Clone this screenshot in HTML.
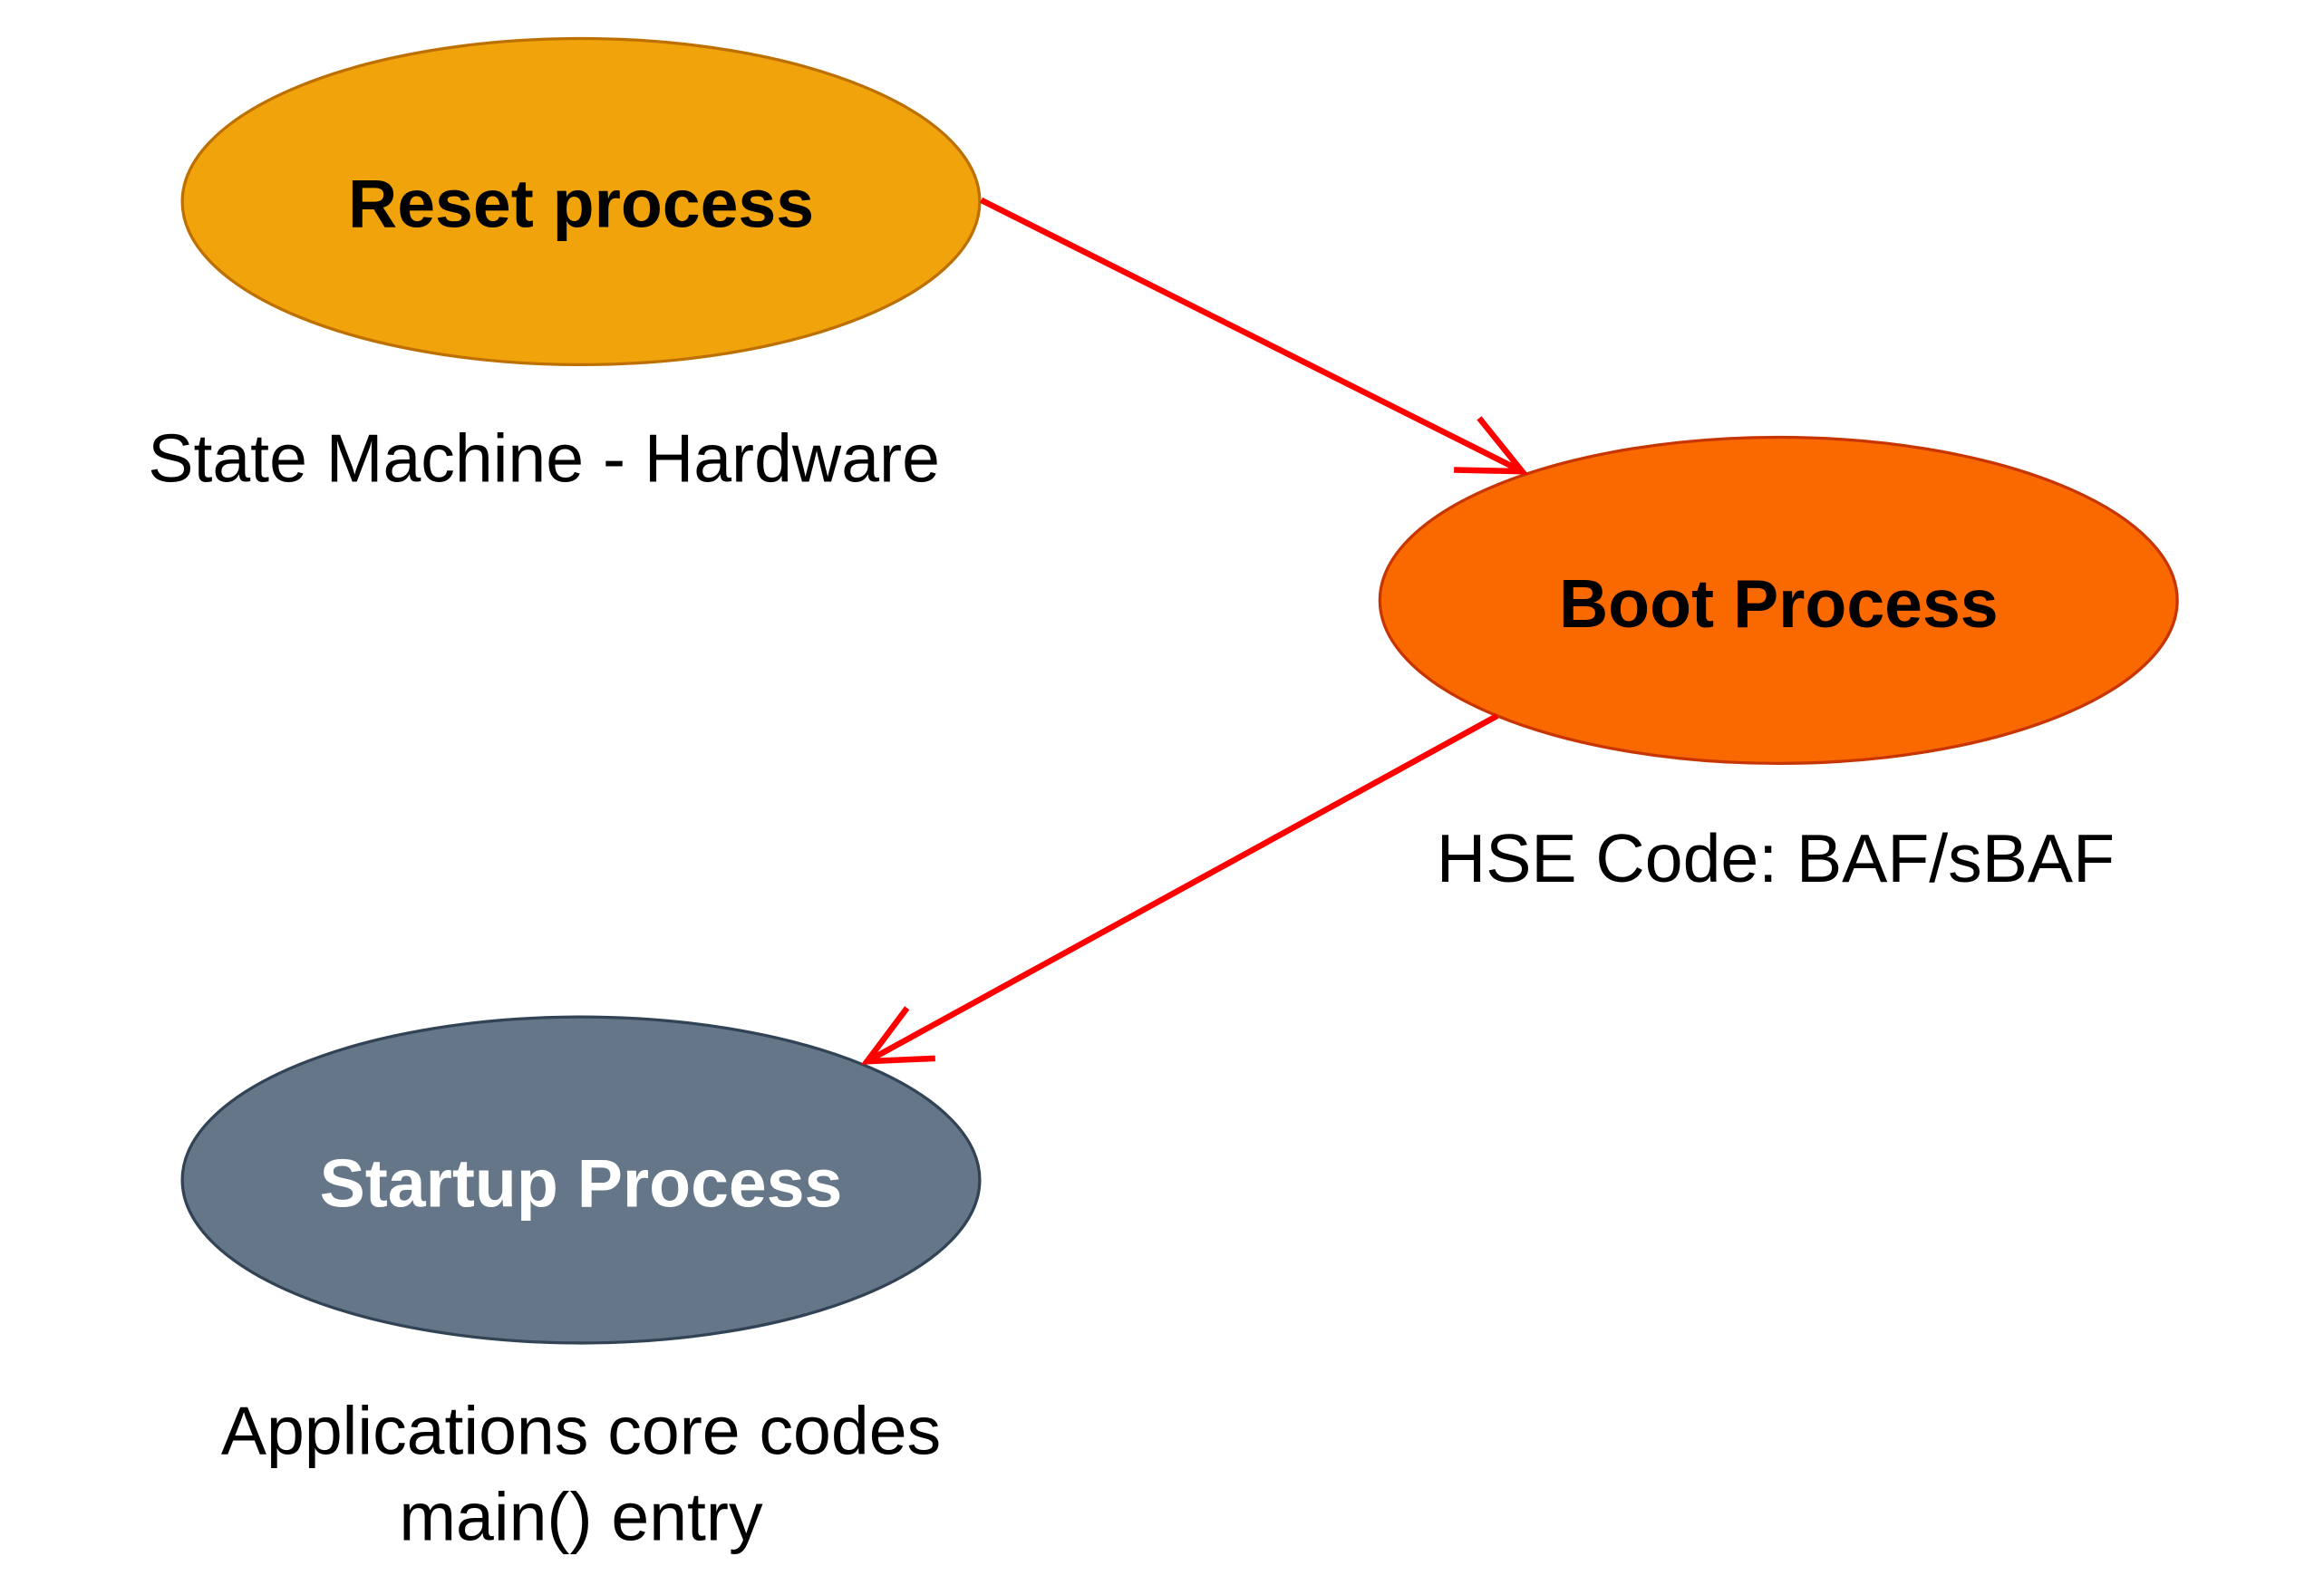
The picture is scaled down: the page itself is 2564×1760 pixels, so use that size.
<!DOCTYPE html>
<html><head><style>html,body{margin:0;padding:0;background:#fff;}svg{display:block}</style></head>
<body>
<svg width="2564" height="1760" viewBox="0 0 1568 1076" preserveAspectRatio="none" xmlns="http://www.w3.org/2000/svg" font-family="Liberation Sans, Arial, sans-serif">
<rect width="1568" height="1076" fill="#fff"/>
<ellipse cx="392" cy="136" rx="269" ry="110" fill="#f0a30a" stroke="#bd7000" stroke-width="2"/>
<ellipse cx="1200" cy="405" rx="269" ry="110" fill="#fa6800" stroke="#c73500" stroke-width="2"/>
<ellipse cx="392" cy="796" rx="269" ry="110" fill="#647687" stroke="#314354" stroke-width="2"/>
<text x="392" y="153" text-anchor="middle" font-size="46" font-weight="bold" fill="#000">Reset process</text>
<text x="1200" y="423" text-anchor="middle" font-size="46" font-weight="bold" fill="#000">Boot Process</text>
<text x="392" y="814" text-anchor="middle" font-size="46" font-weight="bold" fill="#fff">Startup Process</text>
<text x="367" y="325" text-anchor="middle" font-size="46" fill="#000">State Machine - Hardware</text>
<text x="1198" y="595" text-anchor="middle" font-size="46" fill="#000">HSE Code: BAF/sBAF</text>
<text x="392" y="981" text-anchor="middle" font-size="46" fill="#000">Applications core codes</text>
<text x="392" y="1039" text-anchor="middle" font-size="46" fill="#000">main() entry</text>
<g stroke="#ff0000" stroke-width="4" fill="none">
<line x1="662" y1="135" x2="1027" y2="318"/>
<polyline points="998,282 1027,318 981,317"/>
<line x1="1010" y1="483" x2="585" y2="716"/>
<polyline points="612,680 585,716 631,714"/>
</g>
</svg>
</body></html>
